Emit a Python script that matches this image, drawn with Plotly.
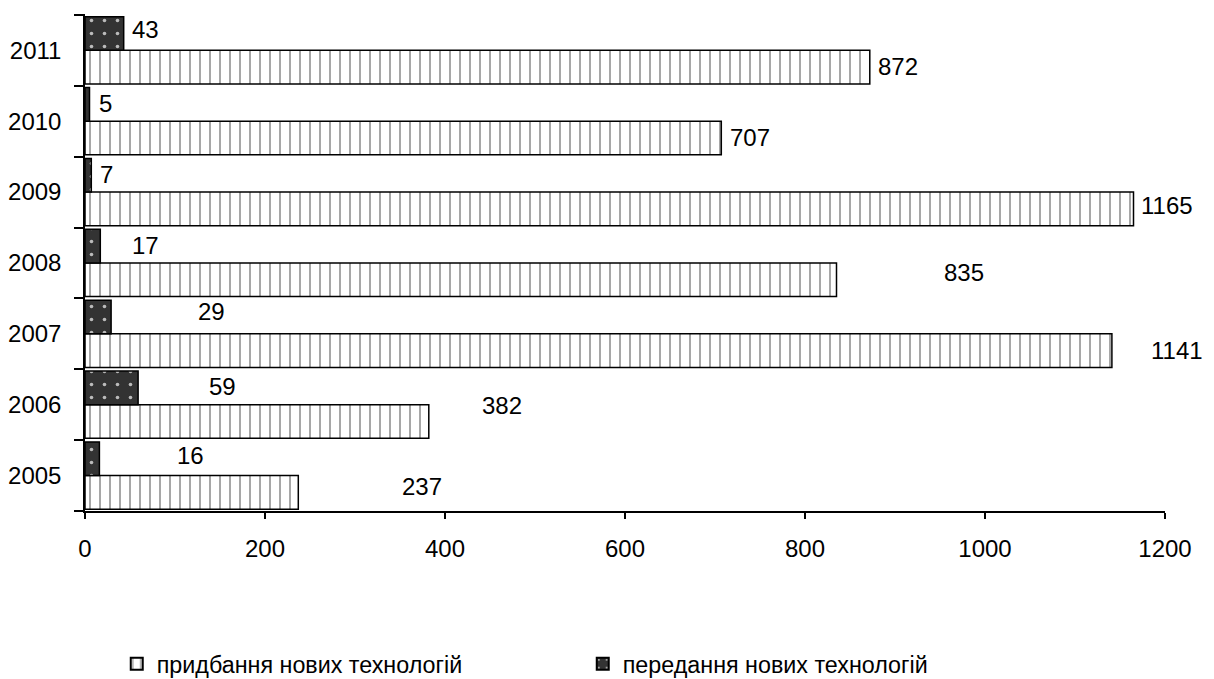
import plotly.graph_objects as go

years = ["2005", "2006", "2007", "2008", "2009", "2010", "2011"]
acquisition = [237, 382, 1141, 835, 1165, 707, 872]   # придбання нових технологій
transfer = [16, 59, 29, 17, 7, 5, 43]                 # передання нових технологій
x_ticks = [0, 200, 400, 600, 800, 1000, 1200]

name_acq = "придбання нових технологій"
name_tr = "передання нових технологій"

# label placement offsets (pixels), as in the reference
acq_dx = [102, 51, 37, 105, 5, 7, 6]
acq_dy = [6, 16, 0, 7, 3, 1, 1]
tr_dx = [76, 69, 85, 30, 7, 7, 6]
tr_dy = [3, 1, 5, 1, 1, 1, 4]

FONT = "Liberation Sans, Arial, sans-serif"
FS = 24
BARGAP = 0.05

fig = go.Figure()
fig.add_trace(go.Bar(
    y=years, x=acquisition, orientation="h", name=name_acq,
    marker=dict(color="white", line=dict(color="black", width=1.5),
                pattern=dict(shape="|", fgcolor="#8a8a8a", bgcolor="white",
                             size=10, solidity=0.15, fillmode="replace")),
))
fig.add_trace(go.Bar(
    y=years, x=transfer, orientation="h", name=name_tr,
    marker=dict(color="#333333", line=dict(color="black", width=1.5),
                pattern=dict(shape=".", fgcolor="#bbbbbb", bgcolor="#333333",
                             size=13, solidity=0.06, fillmode="replace")),
))

half = (1 - BARGAP) / 4
annotations = []
for i, y in enumerate(years):
    annotations.append(dict(x=acquisition[i], y=i - half, xref="x", yref="y",
                            text=str(acquisition[i]), showarrow=False,
                            xanchor="left", yanchor="middle",
                            xshift=acq_dx[i], yshift=acq_dy[i],
                            font=dict(family=FONT, size=FS, color="black")))
    annotations.append(dict(x=transfer[i], y=i + half, xref="x", yref="y",
                            text=str(transfer[i]), showarrow=False,
                            xanchor="left", yanchor="middle",
                            xshift=tr_dx[i], yshift=tr_dy[i],
                            font=dict(family=FONT, size=FS, color="black")))

# page body adds an 8px margin, so the figure is sized to fit the window
fig.update_layout(
    width=1206, height=671,
    margin=dict(l=77, r=49, t=6, b=168, autoexpand=False),
    paper_bgcolor="white", plot_bgcolor="white",
    barmode="group", bargap=BARGAP, bargroupgap=0,
    font=dict(family=FONT, size=FS, color="black"),
    showlegend=True,
    legend=dict(orientation="h", x=0.0294, y=-0.308, xanchor="left", yanchor="middle",
                entrywidth=421, entrywidthmode="pixels",
                font=dict(family=FONT, size=23.3, color="black"),
                itemsizing="constant", traceorder="normal"),
    annotations=annotations,
)
fig.update_xaxes(range=[0, 1200], tickvals=x_ticks, ticks="outside", ticklen=6,
                 tickcolor="black", tickwidth=1.5, showline=True, linecolor="black",
                 linewidth=1.5, showgrid=False, zeroline=False, ticklabelstandoff=9,
                 automargin=False,
                 tickfont=dict(family=FONT, size=FS, color="black"), fixedrange=True)
fig.update_yaxes(type="category", categoryorder="array", categoryarray=years,
                 ticks="outside", tickson="boundaries", ticklen=9,
                 tickcolor="black", tickwidth=1.5, showline=True, linecolor="black",
                 linewidth=1.5, showgrid=False, zeroline=False, ticklabelstandoff=17,
                 automargin=False,
                 tickfont=dict(family=FONT, size=FS, color="black"), fixedrange=True)

fig.write_html("out.html")
